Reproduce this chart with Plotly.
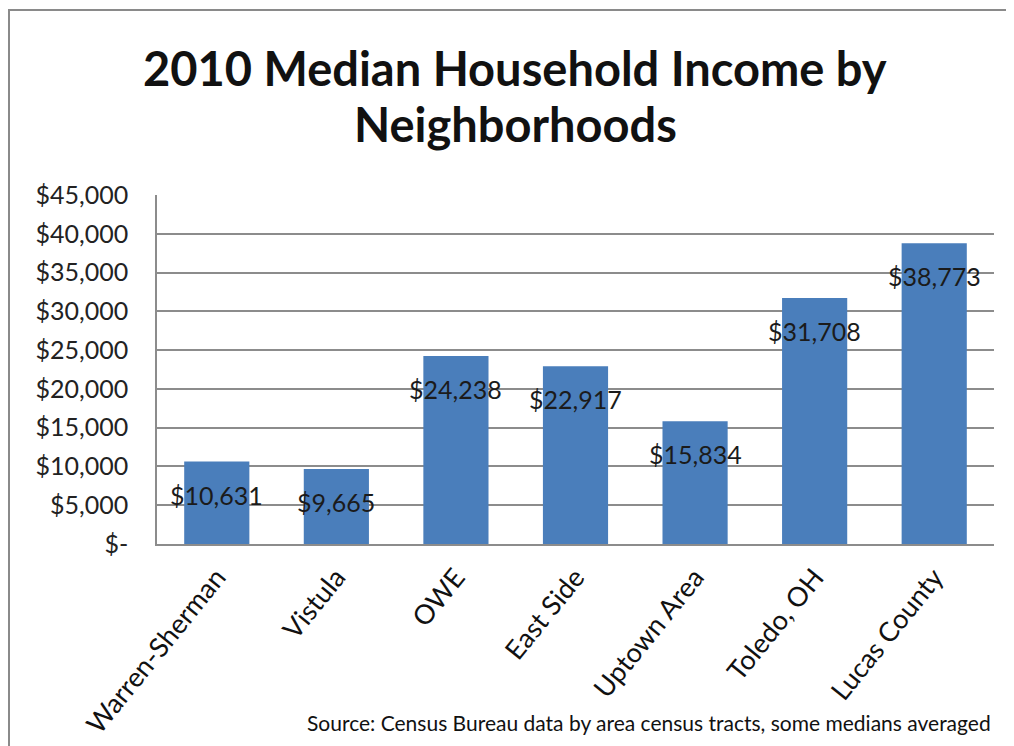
import plotly.graph_objects as go

categories = ["Warren-Sherman", "Vistula", "OWE", "East Side", "Uptown Area", "Toledo, OH", "Lucas County"]
income = [10631, 9665, 24238, 22917, 15834, 31708, 38773]
tick_vals = [0, 5000, 10000, 15000, 20000, 25000, 30000, 35000, 40000, 45000]
tick_text = ["$-", "$5,000", "$10,000", "$15,000", "$20,000", "$25,000", "$30,000", "$35,000", "$40,000", "$45,000"]
title_lines = ["2010 Median Household Income by", "Neighborhoods"]
source_text = "Source: Census Bureau data by area census tracts, some medians averaged"

FONT = "Lato, 'Open Sans', sans-serif"

# page offset (body margin) = 8px; plot area in figure px
PL, PT, PW, PH = 149, 187, 837, 349


def py(abs_y):
    return (PT + PH - (abs_y - 8)) / PH


def px(abs_x):
    return (abs_x - 8 - PL) / PW


fig = go.Figure()
fig.add_trace(go.Bar(
    x=categories, y=income,
    marker=dict(color="#4A7EBB", line=dict(width=0)),
    hoverinfo="skip",
))

for c, v in zip(categories, income):
    fig.add_annotation(x=c, y=v, xref="x", yref="y", text="${:,}".format(v),
                       showarrow=False, yshift=-33, yanchor="middle",
                       font=dict(family=FONT, size=25, color="#1b1b1b"))

fig.add_annotation(x=px(515), y=py(68), xref="paper", yref="paper", text=title_lines[0],
                   showarrow=False, xanchor="center", yanchor="middle",
                   font=dict(family=FONT, size=47, color="#111111", weight="bold"))
fig.add_annotation(x=px(515), y=py(124), xref="paper", yref="paper", text=title_lines[1],
                   showarrow=False, xanchor="center", yanchor="middle",
                   font=dict(family=FONT, size=47, color="#111111", weight="bold"))
fig.add_annotation(x=px(993), y=py(722), xref="paper", yref="paper", text=source_text,
                   showarrow=False, xanchor="right", yanchor="middle",
                   font=dict(family=FONT, size=21, color="#111111"))

fig.update_layout(
    width=1014, height=746,
    margin=dict(l=PL, r=1014 - PL - PW, t=PT, b=746 - PT - PH),
    paper_bgcolor="white", plot_bgcolor="white",
    showlegend=False,
    bargap=0.455,
    font=dict(family=FONT, color="#222222"),
    shapes=[dict(type="rect", xref="paper", yref="paper",
                 x0=px(9), x1=1.3, y0=-0.8, y1=py(10),
                 line=dict(color="#8a8a8a", width=2), layer="below")],
)
fig.update_xaxes(
    type="category", showgrid=False, showline=True, linecolor="#8c8c8c", linewidth=1.5,
    tickangle=-51, ticks="", tickfont=dict(family=FONT, size=27, color="#111111"),
    ticklabelstandoff=5, automargin=False,
)
fig.update_yaxes(
    range=[0, 45000], tickvals=tick_vals, ticktext=tick_text,
    showgrid=True, gridcolor="#8c8c8c", gridwidth=1.5,
    showline=True, linecolor="#8c8c8c", linewidth=1.5,
    zeroline=False, ticks="", tickfont=dict(family=FONT, size=25, color="#222222"),
    ticklabelstandoff=22, automargin=False,
)

fig.write_html("out.html")
